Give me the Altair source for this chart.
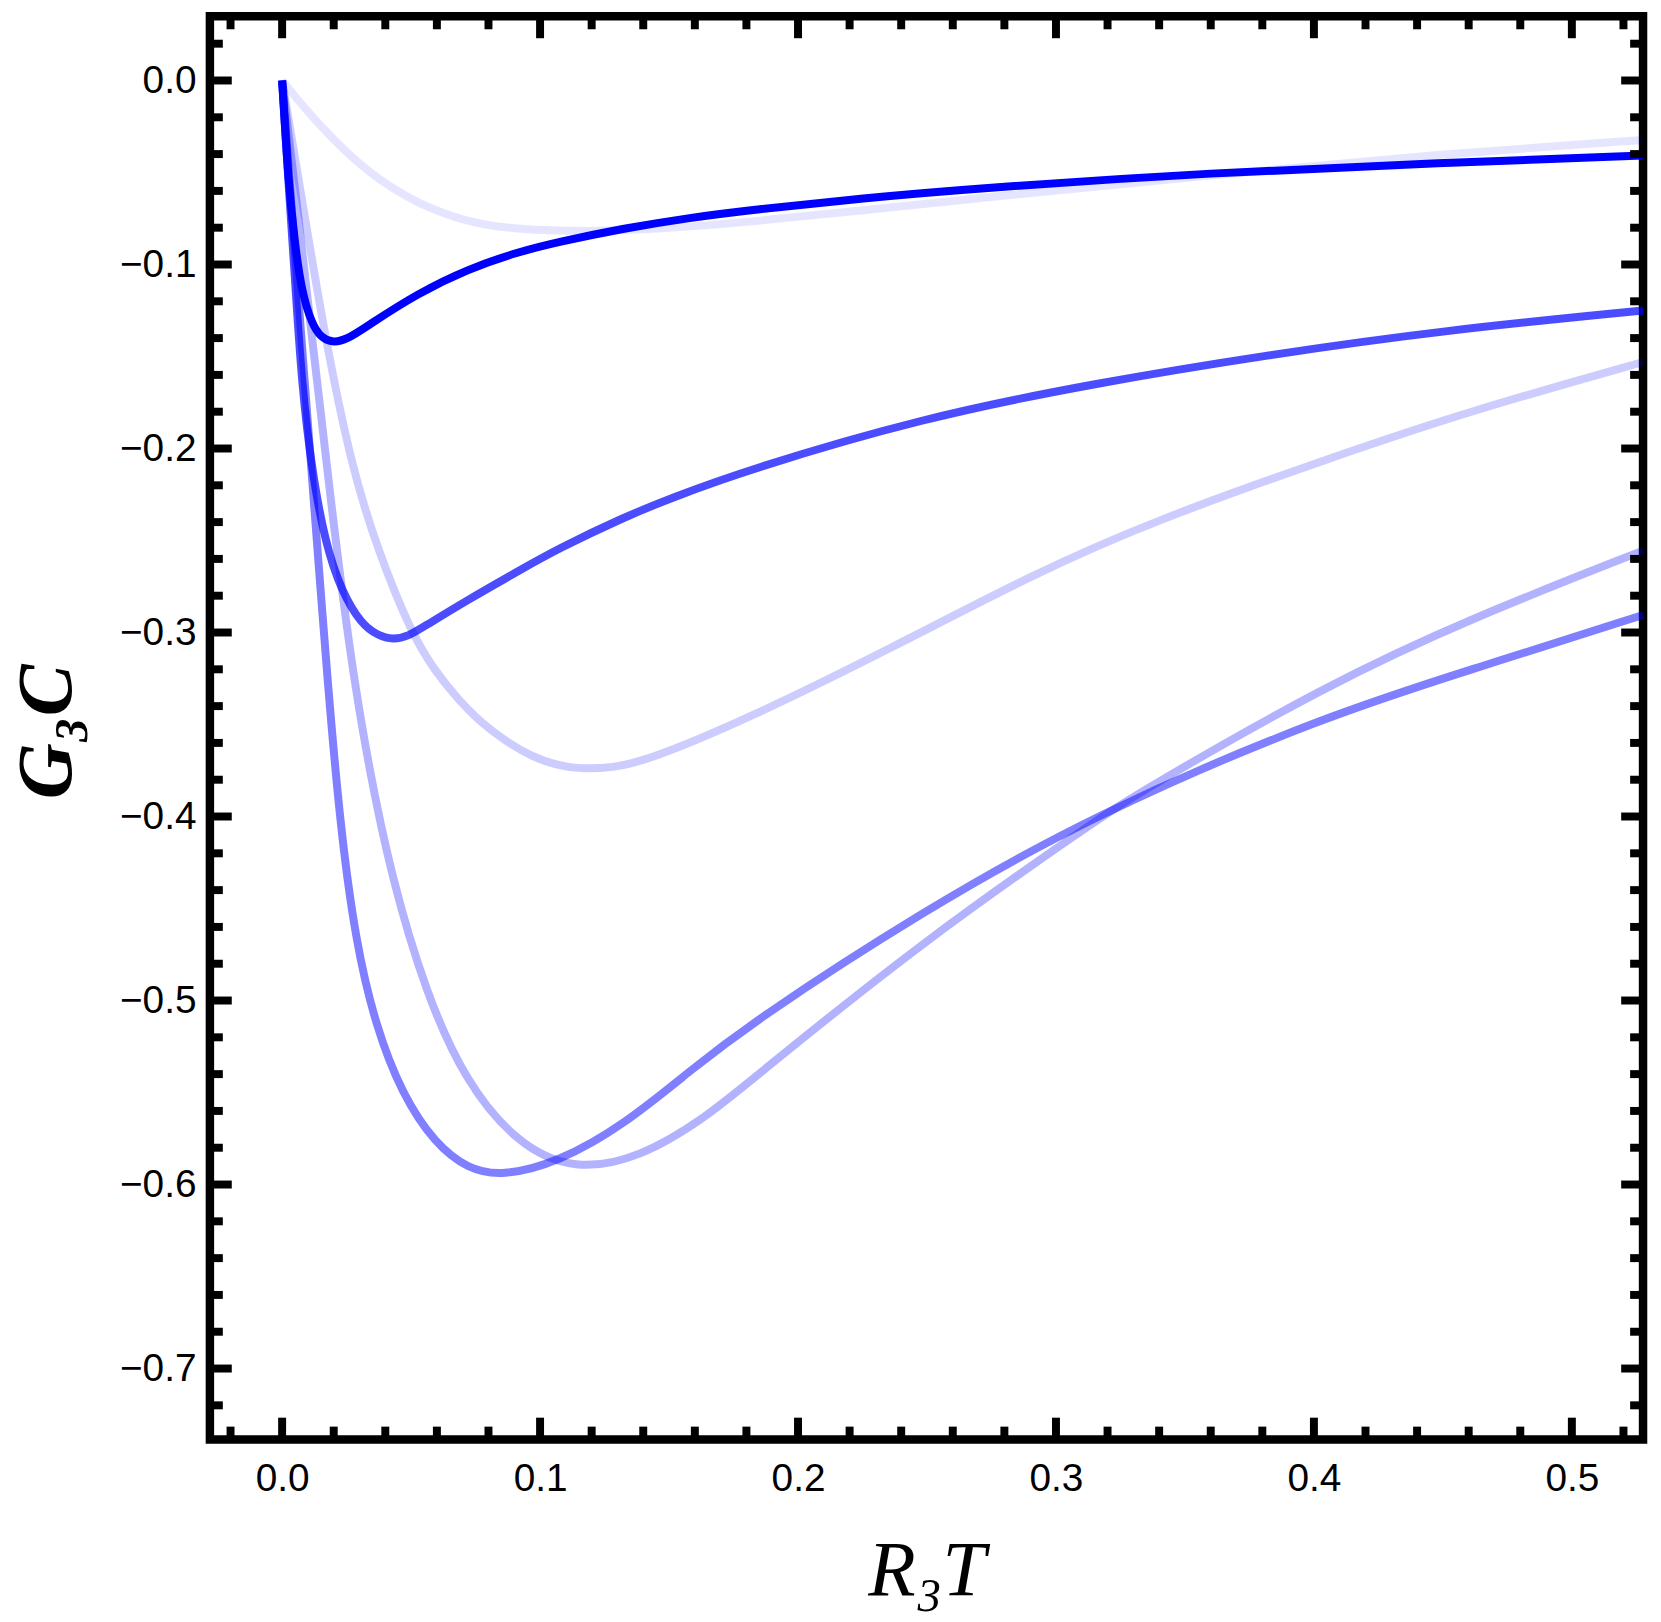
import altair as alt
import pandas as pd

# ---- curve data ----
c1_x = [0, 0.0141, 0.0334, 0.0526, 0.0719, 0.0912, 0.1197, 0.1455, 0.182, 0.225, 0.27, 0.36, 0.45, 0.5276]
c1_y = [0, -0.0242, -0.0507, -0.0672, -0.0771, -0.0811, -0.0821, -0.0808, -0.0768, -0.0706, -0.0638, -0.0515, -0.0398, -0.0323]

c4_x = [0, 0.0089, 0.0167, 0.0269, 0.0372, 0.05, 0.059, 0.0683, 0.0771, 0.0876, 0.0966, 0.1057, 0.1157, 0.128, 0.1413,
        0.182, 0.2364, 0.2926, 0.3376, 0.405, 0.4613, 0.5276]
c4_y = [0, -0.075, -0.140, -0.210, -0.2558, -0.300, -0.3205, -0.3365, -0.3490, -0.3600, -0.3672, -0.3720, -0.3742, -0.3735, -0.3698,
        -0.346, -0.3083, -0.2673, -0.2395, -0.2057, -0.1792, -0.153]

c6_x = [0, 0.006, 0.012, 0.0189, 0.0264, 0.0336, 0.0426, 0.0555, 0.0709, 0.0915, 0.1133, 0.139, 0.1648, 0.182, 0.2476, 0.3151, 0.3309, 0.405, 0.4613, 0.5276]
c6_y = [0, -0.07, -0.145, -0.229, -0.313, -0.3737, -0.434, -0.4950, -0.5440, -0.5785, -0.5925, -0.5855, -0.5630, -0.543, -0.4686, -0.4026, -0.388, -0.3284, -0.292, -0.2555]

c5_x = [0, 0.004, 0.008, 0.0121, 0.0175, 0.0225, 0.0285, 0.0362, 0.0465, 0.0594, 0.072, 0.085, 0.1069, 0.1326, 0.1583, 0.182, 0.2476, 0.3151, 0.405, 0.4613, 0.5276]
c5_y = [0, -0.075, -0.15, -0.225, -0.325, -0.405, -0.468, -0.5137, -0.5510, -0.5780, -0.5915, -0.5955, -0.5880, -0.5675, -0.5380, -0.512, -0.452, -0.3985, -0.345, -0.320, -0.2905]

c3_x = [0, 0.0025, 0.0051, 0.0076, 0.0115, 0.0167, 0.0231, 0.0308, 0.037, 0.043, 0.049, 0.0552, 0.0719, 0.0912, 0.1069, 0.1326, 0.1506, 0.18,
        0.2477, 0.3151, 0.3826, 0.45, 0.5276]
c3_y = [0, -0.057, -0.110, -0.165, -0.2117, -0.2514, -0.2779, -0.2956, -0.3015, -0.3040, -0.3020, -0.2966, -0.2823, -0.2669, -0.2545, -0.2373, -0.227, -0.2118,
        -0.1835, -0.1645, -0.149, -0.1358, -0.125]

c2_x = [0, 0.0025, 0.0051, 0.0076, 0.0115, 0.015, 0.0192, 0.025, 0.0334, 0.0526, 0.0719, 0.0912, 0.1069, 0.1326, 0.1583, 0.182, 0.225, 0.27, 0.36, 0.45, 0.5276]
c2_y = [0, -0.0572, -0.0904, -0.1147, -0.1323, -0.1395, -0.1425, -0.1410, -0.1330, -0.1157, -0.1025, -0.0933, -0.0878, -0.0803, -0.0745, -0.0703, -0.0640, -0.0585, -0.0501, -0.0448, -0.0408]

# drawing order (lightest first) and opacity of each curve
curve_data = [(c1_x, c1_y), (c4_x, c4_y), (c6_x, c6_y), (c5_x, c5_y), (c3_x, c3_y), (c2_x, c2_y)]
curve_opacity = [0.1, 0.2, 0.3, 0.5, 0.7, 1.0]

# tick positions
x_major = [0.0, 0.1, 0.2, 0.3, 0.4, 0.5]
x_minor = [-0.02, 0.02, 0.04, 0.06, 0.08, 0.12, 0.14, 0.16, 0.18, 0.22, 0.24, 0.26, 0.28,
           0.32, 0.34, 0.36, 0.38, 0.42, 0.44, 0.46, 0.48, 0.52]
y_major = [0.0, -0.1, -0.2, -0.3, -0.4, -0.5, -0.6, -0.7]
y_minor = [0.02, -0.02, -0.04, -0.06, -0.08, -0.12, -0.14, -0.16, -0.18, -0.22, -0.24, -0.26, -0.28,
           -0.32, -0.34, -0.36, -0.38, -0.42, -0.44, -0.46, -0.48, -0.52, -0.54, -0.56, -0.58,
           -0.62, -0.64, -0.66, -0.68, -0.72]

W, H = 1441, 1431
XDOM = [-0.028, 0.5276]
YDOM = [-0.7386, 0.03486]
MAJ, MIN = 22, 13

xscale = alt.Scale(domain=XDOM, nice=False, zero=False)
yscale = alt.Scale(domain=YDOM, nice=False, zero=False)

x_axis = alt.Axis(
    values=x_major, format=".1f", ticks=False, domain=False, grid=False,
    labelFont="Liberation Sans", labelFontSize=39, labelColor="black",
    labelPadding=20, labelFlush=False, labelOverlap=False,
    title="R₃T", titleFont="Liberation Serif", titleFontStyle="italic",
    titleFontWeight="normal", titleFontSize=78, titleColor="black",
    titleBaseline="alphabetic", titleAlign="center", titleX=W / 2, titleY=156,
)
y_axis = alt.Axis(
    values=y_major, format=".1f", ticks=False, domain=False, grid=False,
    labelFont="Liberation Sans", labelFontSize=39, labelColor="black",
    labelPadding=14, labelFlush=False, labelOverlap=False,
    title="G₃C", titleFont="Liberation Serif", titleFontStyle="italic",
    titleFontWeight="bold", titleFontSize=78, titleColor="black",
    titleAngle=270, titleBaseline="alphabetic", titleAlign="center",
    titleX=-140, titleY=719,
)

X = alt.X("x:Q", scale=xscale, axis=x_axis)
Y = alt.Y("y:Q", scale=yscale, axis=y_axis)

layers = []
for (xs, ys), op in zip(curve_data, curve_opacity):
    layers.append(
        alt.Chart(pd.DataFrame({"x": xs, "y": ys}))
        .mark_line(stroke="#0000ff", strokeOpacity=op, strokeWidth=8, interpolate="basis")
        .encode(x=X, y=Y)
    )


def xticks(vals, length, top):
    return alt.Chart(pd.DataFrame({"x": vals})).mark_rule(color="black", strokeWidth=8).encode(
        x=X,
        y=alt.value(0 if top else H),
        y2=alt.value(length if top else H - length),
    )


def yticks(vals, length, right):
    return alt.Chart(pd.DataFrame({"y": vals})).mark_rule(color="black", strokeWidth=8).encode(
        y=Y,
        x=alt.value(W if right else 0),
        x2=alt.value(W - length if right else length),
    )


layers += [
    xticks(x_major, MAJ, False), xticks(x_minor, MIN, False),
    xticks(x_major, MAJ, True), xticks(x_minor, MIN, True),
    yticks(y_major, MAJ, False), yticks(y_minor, MIN, False),
    yticks(y_major, MAJ, True), yticks(y_minor, MIN, True),
]

chart = alt.layer(*layers).properties(
    width=W, height=H,
    background="white",
    padding={"left": 203, "top": 4, "right": 10, "bottom": 170},
    autosize=alt.AutoSizeParams(type="none"),
).configure_view(
    stroke="black", strokeWidth=8.5
)

chart.save("out.html", embed_options={"renderer": "svg", "actions": False})
